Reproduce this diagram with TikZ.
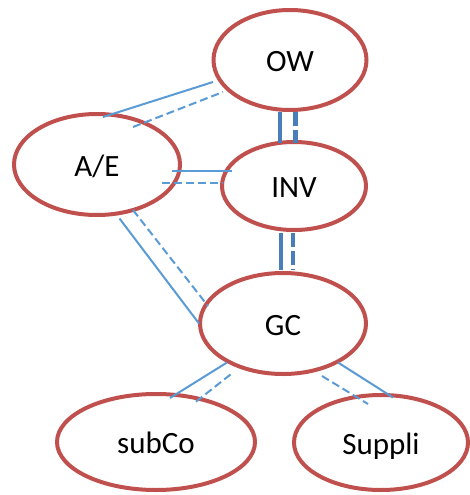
\documentclass[tikz,border=0pt]{standalone}
\usepackage{fontspec}
\setmainfont{Carlito}
\definecolor{ovalred}{HTML}{C0504D}
\definecolor{linkblue}{HTML}{5B9BD5}
\definecolor{barblue}{HTML}{4A7EBB}
\tikzset{>=latex}
\tikzset{
  party/.style={draw=ovalred, ellipse, line width=4pt, inner sep=0pt,
    text height=23pt, text depth=0pt, font=\fontsize{31}{36}\selectfont},
  link/.style={draw=linkblue, line width=2pt},
  dlink/.style={link, dash pattern=on 8pt off 4pt},
  bar/.style={draw=barblue, line width=4.5pt},
  dbar/.style={bar, dash pattern=on 14pt off 4pt}
}
\usetikzlibrary{positioning,shapes.geometric}

\begin{document}
\begin{tikzpicture}[x=1pt, y=-1pt]
      \useasboundingbox (0,0) rectangle (469,495);
      \node[party, minimum width=153pt, minimum height=100pt] (nOW) at (290,60) {OW};
      \node[party, below of=nOW, node distance=126pt, xshift=4pt, minimum width=144pt, minimum height=88pt] (nINV) {INV};
      \node[party, below of=nINV, node distance=137.5pt, xshift=-11pt, minimum width=166pt, minimum height=101pt] (nGC) {GC};
      \node[party, minimum width=166pt, minimum height=101pt] (nAE) at (97,164.5) {A/E};
      \node[party, minimum width=198pt, minimum height=96pt] (nSub) at (156,442) {subCo};
      \node[party, minimum width=174pt, minimum height=95pt] (nSup) at (381,442.5) {Suppli};
      % A/E -- OW
      \draw[link] ([shift={(6,-47.5)}]nAE.center) -- ([shift={(-77,22)}]nOW.center);
      \draw[dlink] ([shift={(36,-37.5)}]nAE.center) -- ([shift={(-67,32)}]nOW.center);
      % OW -- INV -- GC
      \draw[bar] ([shift={(-10,52)}]nOW.center) -- ([shift={(-14,-43)}]nINV.center);
      \draw[dbar] ([shift={(5.5,52)}]nOW.center) -- ([shift={(1.5,-43)}]nINV.center);
      \draw[bar] ([shift={(-13,47)}]nINV.center) -- ([shift={(-2,-53.5)}]nGC.center);
      \draw[dbar] ([shift={(-1,47)}]nINV.center) -- ([shift={(10,-53.5)}]nGC.center);
      % A/E -- INV
      \draw[link] ([shift={(75,6.5)}]nAE.center) -- ([shift={(-62,-15)}]nINV.center);
      \draw[dlink] ([shift={(65,18.5)}]nAE.center) -- ([shift={(-71,-3)}]nINV.center);
      % A/E -- GC
      \draw[link] ([shift={(22.5,54)}]nAE.center) -- ([shift={(-84,0)}]nGC.center);
      \draw[dlink] ([shift={(36,45.5)}]nAE.center) -- ([shift={(-75,-17.5)}]nGC.center);
      % GC -- subCo, GC -- Suppli
      \draw[link] ([shift={(-56,39)}]nGC.center) -- ([shift={(14,-44)}]nSub.center);
      \draw[dlink] ([shift={(-52.5,51)}]nGC.center) -- ([shift={(37,-38)}]nSub.center);
      \draw[link] ([shift={(55,39)}]nGC.center) -- ([shift={(12,-45)}]nSup.center);
      \draw[dlink] ([shift={(39,52.5)}]nGC.center) -- ([shift={(-13,-38.5)}]nSup.center);
    \end{tikzpicture}
\end{document}
